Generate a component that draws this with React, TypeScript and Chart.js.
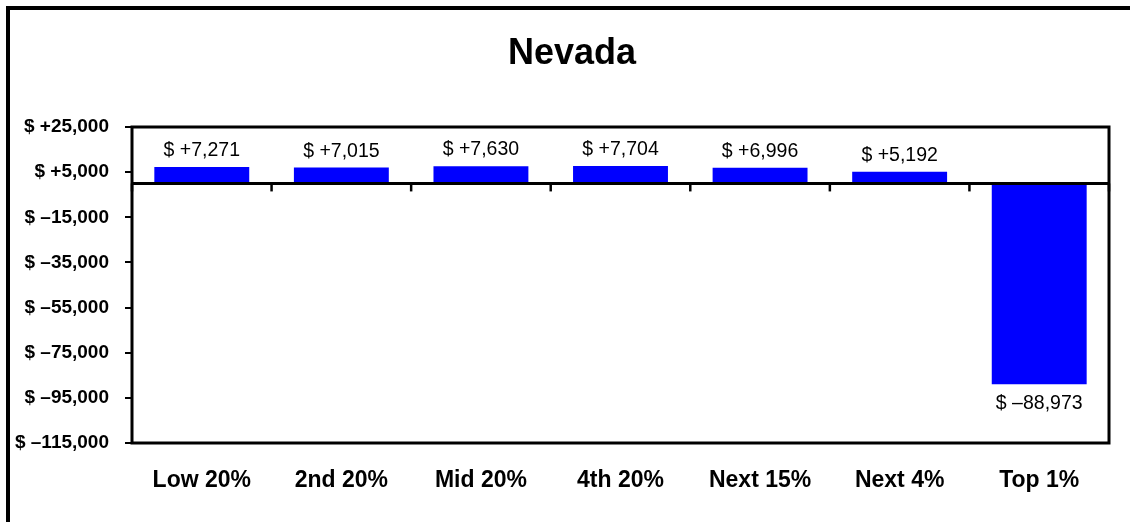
import React, { useEffect, useRef } from 'react';
import { Chart, registerables } from 'chart.js';

Chart.register(...registerables);

const chartTitle = 'Nevada';
const categories = ['Low 20%', '2nd 20%', 'Mid 20%', '4th 20%', 'Next 15%', 'Next 4%', 'Top 1%'];
const values = [7271, 7015, 7630, 7704, 6996, 5192, -88973];
const yTicks = [25000, 5000, -15000, -35000, -55000, -75000, -95000, -115000];
const yMin = -115000;
const yMax = 25000;

const FONT = '"Liberation Sans", Arial, Helvetica, sans-serif';

function fmt(v: number): string {
  const sign = v < 0 ? '\u2013' : '+';
  return '$ ' + sign + Math.abs(v).toLocaleString('en-US');
}

const decor = {
  id: 'decor',
  beforeDraw(chart: any) {
    const ctx = chart.ctx;
    ctx.save();
    ctx.fillStyle = '#ffffff';
    ctx.fillRect(0, 0, chart.width, chart.height);
    ctx.strokeStyle = '#000';
    ctx.lineWidth = 4;
    ctx.strokeRect(8, 8, chart.width + 40, chart.height + 40);
    ctx.fillStyle = '#000';
    ctx.font = `bold 36px ${FONT}`;
    ctx.textAlign = 'center';
    ctx.textBaseline = 'alphabetic';
    ctx.fillText(chartTitle, 572, 64);
    ctx.restore();
  },
  afterDatasetsDraw(chart: any) {
    const ctx = chart.ctx;
    const a = chart.chartArea;
    const y0 = chart.scales.y.getPixelForValue(0);
    ctx.save();
    ctx.strokeStyle = '#000';
    ctx.lineWidth = 3;
    ctx.strokeRect(a.left, a.top, a.right - a.left, a.bottom - a.top);
    ctx.beginPath();
    ctx.moveTo(a.left, y0);
    ctx.lineTo(a.right, y0);
    ctx.stroke();
    ctx.lineWidth = 2.5;
    const n = categories.length;
    const w = (a.right - a.left) / n;
    for (let i = 0; i <= n; i++) {
      const x = a.left + i * w;
      ctx.beginPath();
      ctx.moveTo(x, y0);
      ctx.lineTo(x, y0 + 8);
      ctx.stroke();
    }
    ctx.fillStyle = '#000';
    ctx.font = `19.5px ${FONT}`;
    ctx.textAlign = 'center';
    ctx.textBaseline = 'alphabetic';
    chart.getDatasetMeta(0).data.forEach((bar: any, i: number) => {
      const v = values[i];
      const y = v >= 0 ? bar.y - 11 : bar.y + 25;
      ctx.fillText(fmt(v), bar.x, y);
    });
    ctx.restore();
  },
};

export default function App() {
  const ref = useRef<HTMLCanvasElement | null>(null);

  useEffect(() => {
    document.body.style.margin = '0';
    const canvas = ref.current;
    if (!canvas) return;
    const chart = new Chart(canvas, {
      type: 'bar',
      data: {
        labels: categories,
        datasets: [
          {
            data: values,
            backgroundColor: '#0000ff',
            borderWidth: 0,
            categoryPercentage: 1,
            barPercentage: 0.68,
          },
        ],
      },
      options: {
        responsive: false,
        animation: false,
        devicePixelRatio: 1,
        layout: { padding: { top: 127, right: 21, left: 0, bottom: 0 } },
        plugins: {
          legend: { display: false },
          title: { display: false },
          tooltip: { enabled: false },
        },
        scales: {
          x: {
            grid: { display: false },
            border: { display: false },
            ticks: {
              padding: 16,
              color: '#000',
              maxRotation: 0,
              font: { family: FONT, size: 23, weight: 'bold' },
            },
            afterFit: (s: any) => {
              s.height = 79;
            },
          },
          y: {
            min: yMin,
            max: yMax,
            afterBuildTicks: (s: any) => {
              s.ticks = yTicks.map((v) => ({ value: v }));
            },
            afterFit: (s: any) => {
              s.width = 132;
            },
            grid: {
              drawOnChartArea: false,
              drawTicks: true,
              tickLength: 7,
              color: '#000',
              lineWidth: 2,
            },
            border: { display: false },
            ticks: {
              padding: 16,
              color: '#000',
              font: { family: FONT, size: 19, weight: 'bold' },
              callback: (v: any) => fmt(Number(v)),
            },
          },
        },
      },
      plugins: [decor],
    } as any);
    return () => chart.destroy();
  }, []);

  return (
    <div style={{ width: 1130, height: 522, position: 'relative' }}>
      <canvas ref={ref} width={1130} height={522} style={{ display: 'block' }} />
    </div>
  );
}
